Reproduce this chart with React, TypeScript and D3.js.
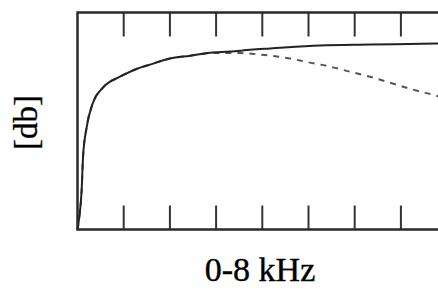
import React from "react";
import * as d3 from "d3";

const W = 438;
const H = 289;

// kHz ticks (0-8 kHz)
const xTicks = [0, 1, 2, 3, 4, 5, 6, 7, 8];

// Solid curve
const solidFreq = [0, 0.04, 0.09, 0.12, 0.2, 0.335, 0.55, 0.92, 1.29, 1.57, 2.0, 2.44, 2.87, 3.3, 3.74, 4.17, 5.25, 6.33, 7.78, 8];
const solidDb = [0, 6, 18.2, 33.5, 47.3, 58.4, 65.4, 70.4, 74.1, 76.0, 78.8, 80.1, 81.5, 82.0, 82.8, 83.4, 84.8, 85.2, 85.7, 85.8];

// Dashed curve
const dashedFreq = [0, 0.04, 0.09, 0.12, 0.2, 0.335, 0.55, 0.92, 1.29, 1.57, 2.0, 2.44, 2.87, 3.52, 3.95, 4.6, 5.03, 5.46, 5.9, 6.33, 6.76, 7.19, 7.69, 8];
const dashedDb = [0, 6, 18.2, 33.5, 47.3, 58.4, 65.4, 70.4, 74.1, 76.0, 78.8, 80.1, 81.3, 81.3, 80.6, 78.8, 76.9, 75.1, 72.7, 70.4, 67.7, 64.9, 62.1, 60.3];

export default function App() {
  const left = 77.5;
  const top = 12.5;
  const bottom = 229.5;
  const step = 46.2;
  const x = d3.scaleLinear().domain([0, 8]).range([left, left + 8 * step]);
  const y = d3.scaleLinear().domain([0, 100]).range([bottom, top]);

  const line = d3
    .line<[number, number]>()
    .x((d) => x(d[0]))
    .y((d) => y(d[1]))
    .curve(d3.curveMonotoneX);

  const solid = solidFreq.map((f, i) => [f, solidDb[i]] as [number, number]);
  const dashed = dashedFreq.map((f, i) => [f, dashedDb[i]] as [number, number]);
  const tickLen = 24;
  const right = x(8);

  return (
    <svg
      width={W}
      height={H}
      style={{ position: "absolute", left: 0, top: 0, background: "#fff" }}
    >
      <path d={line(dashed) || ""} fill="none" stroke="#555" strokeWidth={2} strokeDasharray="6,6" />
      <path d={line(solid) || ""} fill="none" stroke="#222" strokeWidth={2} />
      {xTicks.slice(1, 8).map((t) => (
        <g key={t}>
          <line x1={x(t)} x2={x(t)} y1={top} y2={top + tickLen} stroke="#333" strokeWidth={2} />
          <line x1={x(t)} x2={x(t)} y1={bottom} y2={bottom - tickLen} stroke="#333" strokeWidth={2} />
        </g>
      ))}
      <path
        d={`M${right},${top}H${left}V${bottom}H${right}`}
        fill="none"
        stroke="#2a2a2a"
        strokeWidth={2.5}
      />
      <text
        x={260}
        y={281}
        textAnchor="middle"
        fontFamily="Liberation Serif, Times New Roman, serif"
        fontSize={34}
        fill="#000"
        stroke="#000"
        strokeWidth={0.4}
      >
        0-8 kHz
      </text>
      <text
        transform={`translate(37,122.5) rotate(-90)`}
        textAnchor="middle"
        fontFamily="Liberation Serif, Times New Roman, serif"
        fontSize={33}
        fill="#000"
        stroke="#000"
        strokeWidth={0.3}
      >
        [db]
      </text>
    </svg>
  );
}
